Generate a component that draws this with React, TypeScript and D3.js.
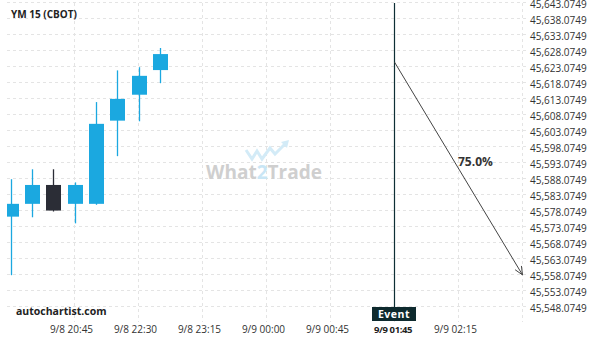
import React from "react";
import * as d3 from "d3";

const candleIndex = [0, 1, 2, 3, 4, 5, 6, 7];
const opens = [45576.0, 45580.0, 45585.9, 45580.0, 45580.0, 45606.0, 45614.1, 45621.8];
const closes = [45580.0, 45585.9, 45577.9, 45585.9, 45605.0, 45612.8, 45620.0, 45626.8];
const highs = [45587.7, 45590.8, 45590.8, 45586.7, 45611.8, 45621.7, 45622.7, 45628.7];
const lows = [45557.7, 45575.8, 45577.6, 45573.9, 45579.7, 45594.9, 45605.8, 45617.7];

const yTicks = [
  45643.0749, 45638.0749, 45633.0749, 45628.0749, 45623.0749, 45618.0749, 45613.0749,
  45608.0749, 45603.0749, 45598.0749, 45593.0749, 45588.0749, 45583.0749, 45578.0749,
  45573.0749, 45568.0749, 45563.0749, 45558.0749, 45553.0749, 45548.0749,
];
const xTickIndex = [3, 6, 9, 12, 15, 18, 21, 24];
const xTickLabels = ["9/8 20:45", "9/8 22:30", "9/8 23:15", "9/9 00:00", "9/9 00:45", "9/9 01:45", "9/9 02:15", ""];

const eventIndex = 18;
const eventPrice = 45624.3;
const targetIndex = 24;
const targetPrice = 45557.8;
const probability = "75.0%";
const title = "YM 15 (CBOT)";

const W = 600;
const H = 340;
const plotLeft = 7;
const plotRight = 528;
const plotTop = 3;
const plotBottom = 322;

const BLUE = "#1ba8e0";
const DARK = "#2b2d36";
const FONT = "'Open Sans', 'Noto Sans', sans-serif";

export default function App() {
  const x = d3.scaleLinear().domain([0, 24]).range([10.5, 522.5]);
  const y = d3.scaleLinear().domain([45638.0749, 45548.0749]).range([18, 306]);
  const fmt = d3.format(",.4f");
  const cw = 15;

  const ex = x(eventIndex);
  const ey = y(eventPrice);
  const tx = x(targetIndex);
  const ty = y(targetPrice);
  const ang = Math.atan2(ty - ey, tx - ex);
  const ah = 9;
  const spread = 0.42;
  const a1x = tx - ah * Math.cos(ang - spread);
  const a1y = ty - ah * Math.sin(ang - spread);
  const a2x = tx - ah * Math.cos(ang + spread);
  const a2y = ty - ah * Math.sin(ang + spread);

  return (
    <svg
      width={W}
      height={H}
      style={{ position: "absolute", left: 0, top: 0, background: "#fff" }}
    >
      <defs>
        <clipPath id="plot">
          <rect x={plotLeft} y={plotTop} width={plotRight - plotLeft} height={plotBottom - plotTop} />
        </clipPath>
      </defs>
      <rect x={0} y={0} width={W} height={H} fill="#fff" />

      {/* grid */}
      <g stroke="#e4e4e4" strokeWidth={1} strokeDasharray="3,3">
        {yTicks.map((t) => (
          <line key={t} x1={plotLeft} x2={plotRight} y1={Math.round(y(t)) + 0.5} y2={Math.round(y(t)) + 0.5} />
        ))}
        {xTickIndex.map((i) => (
          <line key={i} x1={x(i)} x2={x(i)} y1={plotTop} y2={plotBottom} />
        ))}
      </g>

      {/* watermark */}
      <g>
        <path
          d="M246,150 L252,159 L257,151 L262,159 L270,148 L275,154 L286,143"
          fill="none"
          stroke="#d3ebf7"
          strokeWidth={3}
          strokeLinejoin="miter"
        />
        <path d="M281,142 L289,140 L287,148 Z" fill="#d3ebf7" />
        <text x={264} y={179} textAnchor="middle" fontFamily={FONT} fontWeight="bold" fontSize={19} fill="#cfcfcf">
          What<tspan fill="#c9e6f5">2</tspan>Trade
        </text>
      </g>

      {/* candles */}
      <g clipPath="url(#plot)">
        {candleIndex.map((i) => {
          const up = closes[i] >= opens[i];
          const col = up ? BLUE : DARK;
          const cx = Math.round(x(i)) + 0.5;
          const top = y(Math.max(opens[i], closes[i]));
          const bot = y(Math.min(opens[i], closes[i]));
          return (
            <g key={i}>
              <line x1={cx} x2={cx} y1={y(highs[i])} y2={y(lows[i])} stroke={col} strokeWidth={1.3} />
              <rect x={cx - cw / 2} y={top} width={cw} height={Math.max(1, bot - top)} fill={col} />
            </g>
          );
        })}
      </g>

      {/* event line */}
      <line x1={ex} x2={ex} y1={plotTop} y2={308} stroke="#0e2f35" strokeWidth={1.2} />
      <line x1={ex} y1={ey} x2={tx} y2={ty} stroke="#444" strokeWidth={1} />
      <polyline points={`${a1x},${a1y} ${tx},${ty} ${a2x},${a2y}`} fill="none" stroke="#444" strokeWidth={1} />
      <text x={458} y={166} fontFamily={FONT} fontWeight="bold" fontSize={12} fill="#333">
        {probability}
      </text>

      {/* y axis labels */}
      <g fontFamily={FONT} fontSize={10} fill="#333">
        {yTicks.map((t) => (
          <text key={t} x={530} y={y(t) + 5.5}>
            {fmt(t)}
          </text>
        ))}
      </g>

      {/* x axis labels */}
      <g fontFamily={FONT} fontSize={10} fill="#333" textAnchor="middle">
        {xTickIndex.map((i, k) =>
          i === eventIndex ? null : (
            <text key={i} x={x(i) - 3} y={333}>
              {xTickLabels[k]}
            </text>
          )
        )}
      </g>

      {/* event label */}
      <rect x={372} y={307} width={44} height={14} fill="#0e2a2e" />
      <text x={394} y={318} textAnchor="middle" fontFamily={FONT} fontWeight="bold" fontSize={10.5} fill="#fff" letterSpacing={0.5}>
        Event
      </text>
      <text x={393} y={333} textAnchor="middle" fontFamily={FONT} fontWeight="bold" fontSize={9.5} fill="#222" letterSpacing={-0.4}>
        {xTickLabels[xTickIndex.indexOf(eventIndex)]}
      </text>

      {/* titles */}
      <text x={11} y={18} fontFamily={FONT} fontWeight="bold" fontSize={10} fill="#222">
        {title}
      </text>
      <text x={16} y={315} fontFamily={FONT} fontWeight="bold" fontSize={10.5} fill="#222">
        autochartist.com
      </text>
    </svg>
  );
}
